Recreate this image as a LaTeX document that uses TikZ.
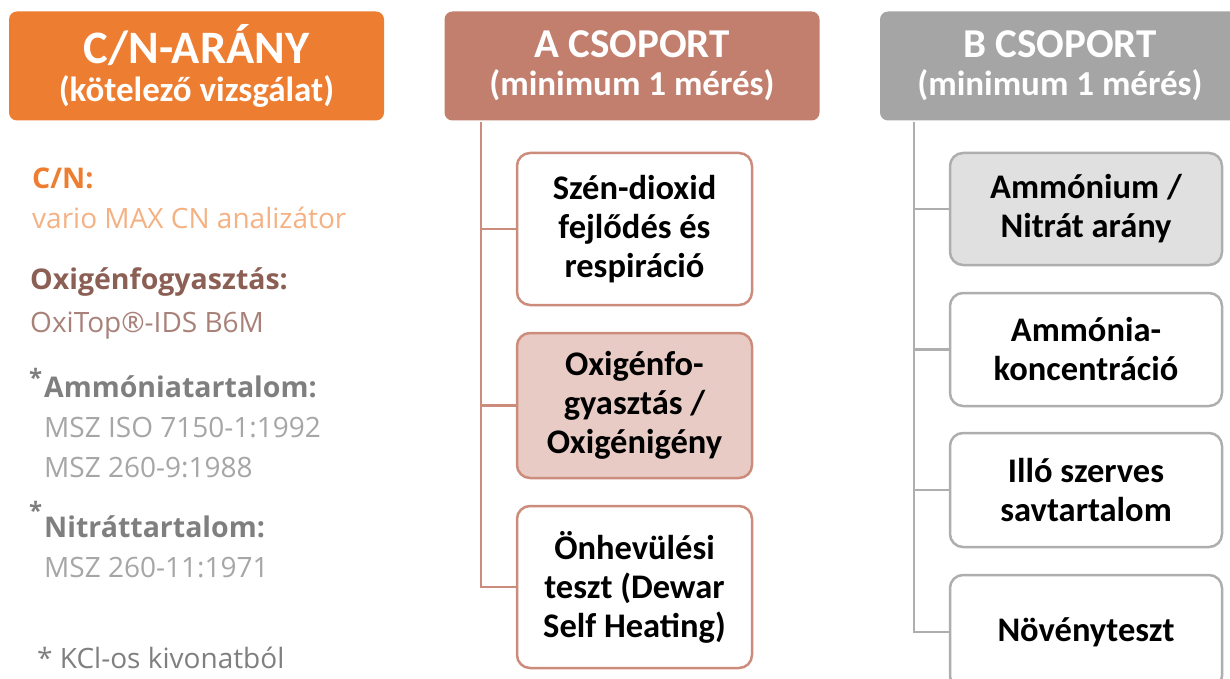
\documentclass[tikz,border=0pt]{standalone}
\usepackage{fontspec}
\setmainfont{Carlito}
\newfontfamily\sidefont{Open Sans}
\usetikzlibrary{positioning,calc}

\definecolor{cnorange}{HTML}{ED7D31}
\definecolor{cnlight}{HTML}{F4B183}
\definecolor{ahead}{HTML}{C27F6E}
\definecolor{aline}{HTML}{CC8C7C}
\definecolor{afill}{HTML}{E8CBC4}
\definecolor{bhead}{HTML}{A5A5A5}
\definecolor{bline}{HTML}{AEAEAE}
\definecolor{bfill}{HTML}{E0E0E0}
\definecolor{oxdark}{HTML}{8C5F55}
\definecolor{oxlight}{HTML}{A88179}
\definecolor{ndark}{HTML}{7F7F7F}
\definecolor{nlight}{HTML}{A6A6A6}

\begin{document}
\begin{tikzpicture}[
    x=1pt, y=-1pt,
    hdr/.style={
        rectangle, rounded corners=8pt, text=white, align=center,
        minimum width=375pt, minimum height=109pt, inner sep=0pt,
        font=\fontsize{35}{38}\selectfont\bfseries
    },
    % group boxes
    abox/.style={
        rectangle, rounded corners=13pt, draw=aline, line width=2.5pt,
        fill=white, minimum width=235pt, align=center, inner sep=0pt,
        font=\fontsize{34.5}{39}\selectfont\bfseries
    },
    bbox/.style={
        abox, draw=bline, minimum width=272pt
    },
    alink/.style={aline, line width=2.5pt},
    blink/.style={bline, line width=2.5pt},
    ttl/.style={anchor=base west, inner sep=0pt, font=\sidefont\fontsize{28.5}{30}\selectfont\bfseries},
    txt/.style={anchor=base west, inner sep=0pt, font=\sidefont\fontsize{28}{30}\selectfont},
    star/.style={anchor=base west, inner sep=0pt, font=\sidefont\fontsize{24}{24}\selectfont\bfseries, text=ndark}
]
\clip (0,0) rectangle (1230,679);
\useasboundingbox (0,0) rectangle (1230,679);

% === Headers ===
\node[hdr, fill=cnorange] (CN) at (196.5,66)
    {{\fontsize{46.5}{48}\selectfont C/N-ARÁNY}\\(kötelező vizsgálat)};
\node[hdr, fill=ahead] (AH) at (632,66)
    {{\fontsize{41}{44}\selectfont A CSOPORT}\\(minimum 1 mérés)};
\node[hdr, fill=bhead, minimum width=360pt] (BH) at (1060,66)
    {{\fontsize{41}{44}\selectfont B CSOPORT}\\(minimum 1 mérés)};

% === C/N methods ===
\node[ttl, text=cnorange] (cnT) at (32,189) {C/N:};
\node[txt, text=cnlight] (cnV) at (32,228) {vario MAX CN analizátor};
\node[ttl, text=oxdark] (oxT) at (30,289) {Oxigénfogyasztás:};
\node[txt, text=oxlight] (oxV) at (30,332) {OxiTop®-IDS B6M};
\node[star] (amS) at (29,386) {*};
\node[ttl, text=ndark] (amT) at (44,397) {Ammóniatartalom:};
\node[txt, text=nlight] (amV1) at (44,437) {MSZ ISO 7150-1:1992};
\node[txt, text=nlight] (amV2) at (44,477) {MSZ 260-9:1988};
\node[star] (niS) at (29,519) {*};
\node[ttl, text=ndark] (niT) at (44,537) {Nitráttartalom:};
\node[txt, text=nlight] (niV) at (44,577) {MSZ 260-11:1971};
\node[txt, text=ndark] (kcl) at (37,668) {* KCl-os kivonatból};

% === A group ===
\node[abox, minimum height=152pt] (A1) at (634.5,229) {Szén-dioxid\\fejlődés és\\respiráció};
\node[abox, minimum height=145pt, fill=afill] (A2) at (634.5,405.5) {Oxigénfo-\\gyasztás /\\Oxigénigény};
\node[abox, minimum height=162pt] (A3) at (634.5,587) {Önhevülési\\teszt (Dewar\\Self Heating)};

\coordinate (Atop) at (481,122);
\draw[alink] (Atop) |- (A3.west);
\draw[alink] (Atop |- A1.west) -- (A1.west);
\draw[alink] (Atop |- A2.west) -- (A2.west);

% === B group ===
\node[bbox, minimum height=112pt, fill=bfill] (B1) at (1086,209) {Ammónium /\\Nitrát arány};
\node[bbox, minimum height=113pt] (B2) at (1086,349.5) {Ammónia-\\koncentráció};
\node[bbox, minimum height=114pt] (B3) at (1086,490) {Illó szerves\\savtartalom};
\node[bbox, minimum height=114pt] (B4) at (1086,632) {Növényteszt};

\coordinate (Btop) at (914,122);
\draw[blink] (Btop) |- (B4.west);
\foreach \b in {B1,B2,B3}
    \draw[blink] (Btop |- \b.west) -- (\b.west);

\end{tikzpicture}
\end{document}
